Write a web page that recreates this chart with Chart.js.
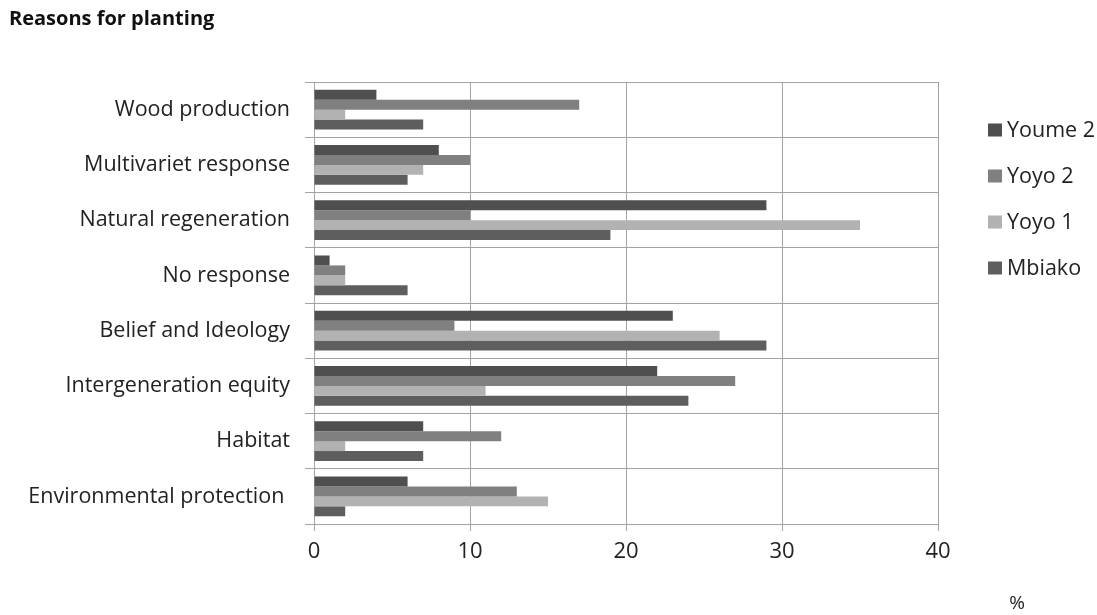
<!DOCTYPE html>
<html>
<head>
<meta charset="utf-8">
<script src="https://cdn.jsdelivr.net/npm/chart.js@4.4.1/dist/chart.umd.min.js"></script>
<style>
  html, body { margin: 0; padding: 0; background: #fff; }
  #wrap { width: 1097px; height: 615px; }
</style>
</head>
<body>
<div id="wrap"><canvas id="c" width="1097" height="615"></canvas></div>
<script>
// Reasons for planting, % of respondents per site
const categories = [
  'Wood production',
  'Multivariet response',
  'Natural regeneration',
  'No response',
  'Belief and Ideology',
  'Intergeneration equity',
  'Habitat',
  'Environmental protection '
];
const seriesNames = ['Youme 2', 'Yoyo 2', 'Yoyo 1', 'Mbiako'];
const youme2 = [4, 8, 29, 1, 23, 22, 7, 6];
const yoyo2  = [17, 10, 10, 2, 9, 27, 12, 13];
const yoyo1  = [2, 7, 35, 2, 26, 11, 2, 15];
const mbiako = [7, 6, 19, 6, 29, 24, 7, 2];
const xTicks = [0, 10, 20, 30, 40];

const colors = ['#4f4f4f', '#808080', '#b2b2b2', '#5e5e5e'];
const seriesValues = [youme2, yoyo2, yoyo1, mbiako];
const FONT = '"Open Sans", "Liberation Sans", sans-serif';
const GRID = '#a3a3a3';
const TEXT = '#222';

const datasets = seriesNames.map((name, i) => ({
  label: name,
  data: seriesValues[i],
  backgroundColor: colors[i],
  borderWidth: 0,
  categoryPercentage: 0.72,
  barPercentage: 1.0
}));

// Title, side legend and unit mark drawn straight onto the canvas
const decorations = {
  id: 'decorations',
  afterDraw(chart) {
    const ctx = chart.ctx;
    ctx.save();
    ctx.textBaseline = 'middle';
    ctx.textAlign = 'left';
    ctx.fillStyle = '#111';
    ctx.font = 'bold 20px ' + FONT;
    ctx.fillText('Reasons for planting', 9, 19);

    ctx.font = '21.5px ' + FONT;
    chart.data.datasets.forEach((ds, i) => {
      const cy = 130 + i * 46;
      ctx.fillStyle = ds.backgroundColor;
      ctx.fillRect(988, cy - 6.5, 14, 13);
      ctx.fillStyle = TEXT;
      ctx.fillText(ds.label, 1007, cy + 1);
    });

    ctx.font = '19px ' + FONT;
    ctx.textAlign = 'center';
    ctx.fillText('%', 1017, 604);
    ctx.restore();
  }
};

new Chart(document.getElementById('c'), {
  type: 'bar',
  data: { labels: categories, datasets },
  options: {
    indexAxis: 'y',
    responsive: false,
    animation: false,
    devicePixelRatio: 1,
    layout: { padding: { top: 82, right: 159, left: 0, bottom: 0 } },
    plugins: {
      legend: { display: false },
      title: { display: false },
      tooltip: { enabled: false }
    },
    scales: {
      x: {
        min: 0,
        max: 40,
        afterBuildTicks(scale) { scale.ticks = xTicks.map(v => ({ value: v })); },
        afterFit(scale) { scale.height = 91; },
        ticks: { font: { family: FONT, size: 22 }, color: TEXT, padding: 8 },
        grid: { color: GRID, tickLength: 7, lineWidth: 1 },
        border: { color: GRID, width: 1 }
      },
      y: {
        afterFit(scale) { scale.width = 314; },
        ticks: { font: { family: FONT, size: 21.5 }, color: TEXT, padding: 15 },
        grid: { color: GRID, tickLength: 9, lineWidth: 1 },
        border: { color: GRID, width: 1 }
      }
    }
  },
  plugins: [decorations]
});
</script>
</body>
</html>
